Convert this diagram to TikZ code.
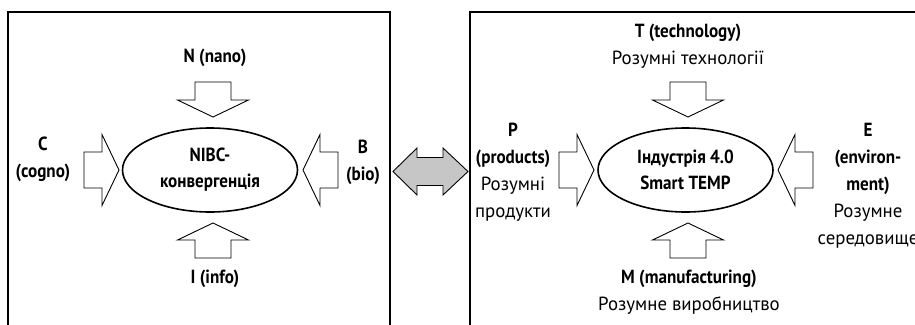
\documentclass[tikz,border=0pt]{standalone}
\usepackage{fontspec}
\setmainfont[FakeStretch=0.99, BoldFeatures={FakeStretch=0.9}]{PT Sans}
\usetikzlibrary{shapes.geometric}
\tikzset{
    every node/.style={inner sep=0mm, font=\fontsize{19}{27}\selectfont}
}
\tikzset{
    blk/.pic={\draw[line width=.9pt, line join=miter] (0,0) -- (-17,35.5) -- (-17,18) -- (-35,18) -- (-35,-18)
        -- (-17,-18) -- (-17,-35.5) -- cycle;},
    core/.style={ellipse, draw, line width=1.6pt, minimum width=175pt, minimum height=84pt, align=center,
        font=\fontsize{19}{26}\selectfont\bfseries},
    lab/.style={align=center},
    bold/.style={align=center, font=\fontsize{19}{27}\selectfont\bfseries}
}

\begin{document}
\begin{tikzpicture}[x=1pt, y=-1pt]
        \useasboundingbox (0,0) rectangle (915,324);
        \clip (0,0) rectangle (915,324);
        \draw[line width=1.5pt] (8,340) |- (390,12) -- (390,340);
        \draw[line width=1.5pt] (470,340) |- (930,12);
        % NIBC
        \node (nibc) [core] at (210,170) {NIBC-\\конвергенція};
        \pic (an) [rotate=270] at (213,117) {blk};
        \pic (ai) [rotate=90] at (213,223) {blk};
        \pic (ac) at (119,170) {blk};
        \pic (ab) [rotate=180] at (303,170) {blk};
        \node (tn) [bold] at (215,57.5) {N (nano)};
        \node (ti) [bold] at (215,279) {I (info)};
        \node (tc) [bold] at (43,159) {C\\(cogno)};
        \node (tb) [bold] at (363,162) {B\\(bio)};
        % Smart TEMP
        \node (ind) [core] at (685.5,170) {Індустрія 4.0\\Smart TEMP};
        \pic (at) [rotate=270] at (688,117) {blk};
        \pic (am) [rotate=90] at (688,223) {blk};
        \pic (ap) at (594,170) {blk};
        \pic (ae) [rotate=180] at (778,170) {blk};
        \node (tt) [lab] at (688,46) {\textbf{T (technology)}\\Розумні технології};
        \node (tm) [lab] at (689,292.5) {\textbf{M (manufacturing)}\\Розумне виробництво};
        \node (tp) [lab] at (513,172) {\textbf{P}\\\textbf{(products)}\\Розумні\\продукти};
        \node (te) [lab] at (868,185.5) {\textbf{E}\\\textbf{(environ-}\\\textbf{ment)}\\Розумне\\середовище};
        % link between the two panels
        \draw[line width=.9pt, fill=gray!45] (393,171.5) -- (417,148) -- (417,157.5) -- (443,157.5) -- (443,148)
            -- (468,171.5) -- (443,195) -- (443,185.5) -- (417,185.5) -- (417,195) -- cycle;
\end{tikzpicture}
\end{document}
